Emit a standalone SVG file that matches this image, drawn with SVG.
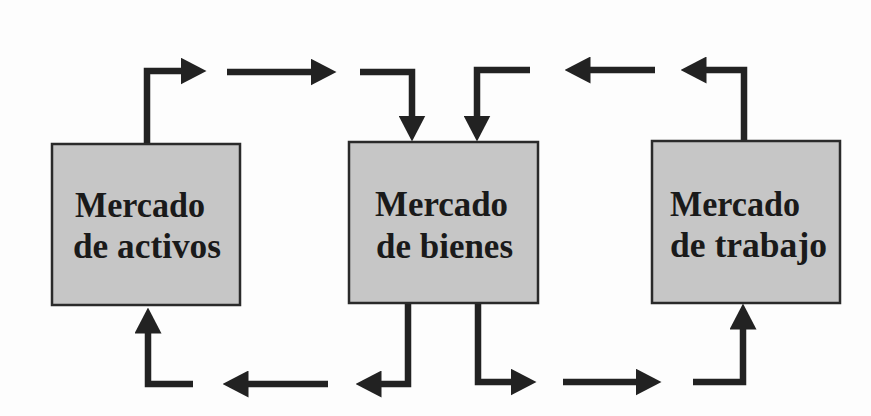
<svg xmlns="http://www.w3.org/2000/svg" width="871" height="416" viewBox="0 0 871 416">
<style>
.box{fill:#c6c6c6;stroke:#2a2a2a;stroke-width:2.5}
.lbl{font-family:"Liberation Serif","Times New Roman",serif;font-weight:bold;font-size:35px;fill:#1a1a1a}
.c{fill:none;stroke:#222;stroke-width:6.5;stroke-linejoin:miter;stroke-linecap:butt;marker-end:url(#ah)}
</style>
<defs>
<marker id="ah" viewBox="0 0 26 27" refX="0.5" refY="13.5" markerWidth="26" markerHeight="27" markerUnits="userSpaceOnUse" orient="auto">
<path d="M0,0 L26,13.5 L0,27 z" fill="#222"/>
</marker>
</defs>
<rect width="871" height="416" fill="#fdfdfd"/>
<g id="connectors">
<path class="c" d="M147,144 V71 H181"/>
<path class="c" d="M227,72 H311"/>
<path class="c" d="M360,72 H412 V116"/>
<path class="c" d="M530,70 H477 V116"/>
<path class="c" d="M655,70 H590"/>
<path class="c" d="M744,141 V70 H706"/>
<path class="c" d="M193,384 H148 V333"/>
<path class="c" d="M328,384 H248"/>
<path class="c" d="M408,303 V384 H381"/>
<path class="c" d="M478,303 V382 H511"/>
<path class="c" d="M563,382 H636"/>
<path class="c" d="M693,382 H743 V329"/>
</g>
<g id="activos">
<rect class="box" x="52" y="144" width="188" height="161"/>
<text class="lbl" x="75" y="217" textLength="130" lengthAdjust="spacingAndGlyphs">Mercado</text>
<text class="lbl" x="73" y="258" textLength="148" lengthAdjust="spacingAndGlyphs">de activos</text>
</g>
<g id="bienes">
<rect class="box" x="349" y="142" width="189" height="161"/>
<text class="lbl" x="375" y="216" textLength="133" lengthAdjust="spacingAndGlyphs">Mercado</text>
<text class="lbl" x="376" y="258" textLength="137" lengthAdjust="spacingAndGlyphs">de bienes</text>
</g>
<g id="trabajo">
<rect class="box" x="652" y="141" width="188" height="162"/>
<text class="lbl" x="670" y="216" textLength="130" lengthAdjust="spacingAndGlyphs">Mercado</text>
<text class="lbl" x="670" y="257" textLength="157" lengthAdjust="spacingAndGlyphs">de trabajo</text>
</g>
</svg>
